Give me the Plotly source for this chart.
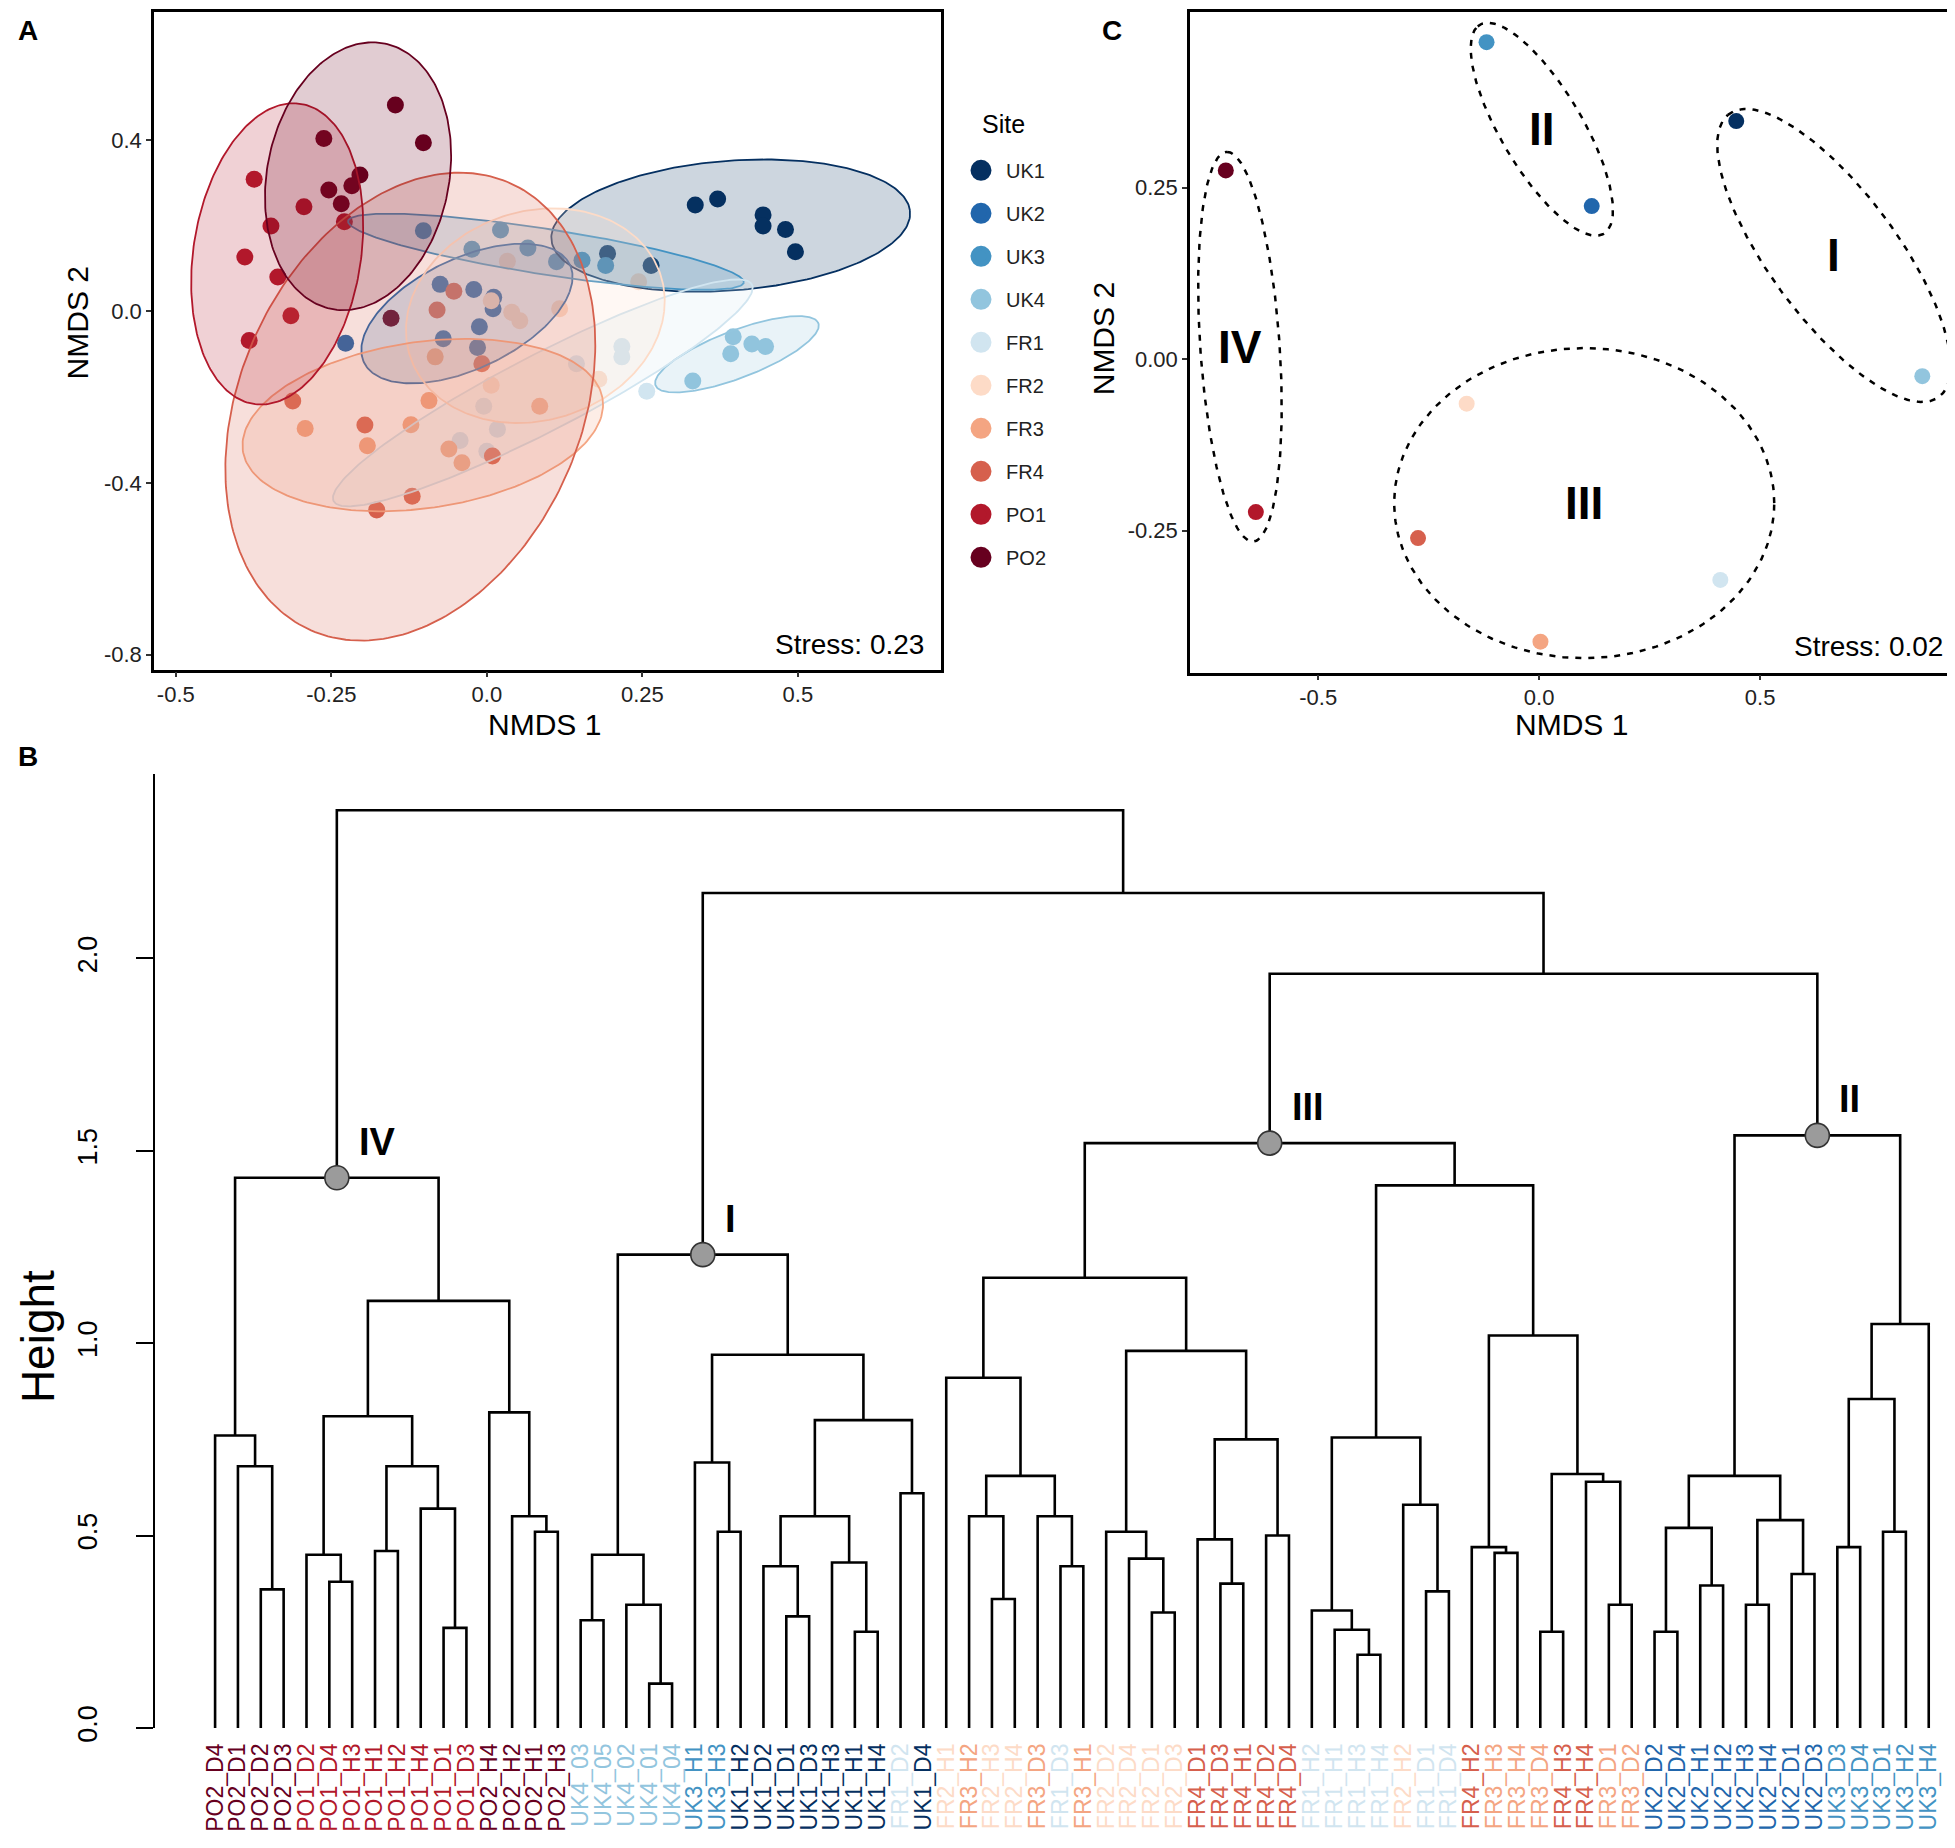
import numpy as np
import plotly.graph_objects as go

W, H = 1955, 1848
FONT = "Liberation Sans, Arial, sans-serif"

# ---------------- data ----------------
sites = ["UK1", "UK2", "UK3", "UK4", "FR1", "FR2", "FR3", "FR4", "PO1", "PO2"]
site_colors = ["#053061", "#2166AC", "#4393C3", "#92C5DE", "#D1E5F0",
               "#FDDBC7", "#F4A582", "#D6604D", "#B2182B", "#67001F"]

# Panel A: NMDS of samples
a_x = {
    "UK1": [0.335, 0.371, 0.444, 0.444, 0.480, 0.496, 0.194, 0.264],
    "UK2": [-0.227, -0.075, -0.021, 0.011, 0.010, -0.012, -0.070, -0.015],
    "UK3": [-0.102, -0.024, 0.022, 0.066, 0.112, 0.153, 0.191],
    "UK4": [0.396, 0.392, 0.426, 0.448, 0.331],
    "FR1": [0.217, 0.217, 0.144, 0.257, -0.005, 0.017, -0.043, 0.000],
    "FR2": [0.033, 0.007, 0.040, 0.053, 0.117, 0.244, 0.007, 0.180],
    "FR3": [-0.093, -0.292, -0.122, -0.192, -0.061, -0.040, 0.085, -0.083],
    "FR4": [-0.053, -0.080, -0.008, -0.312, -0.196, 0.009, -0.120, -0.177],
    "PO1": [-0.374, -0.294, -0.347, -0.229, -0.389, -0.336, -0.315, -0.382],
    "PO2": [-0.147, -0.262, -0.102, -0.204, -0.254, -0.217, -0.234, -0.154],
}
a_y = {
    "UK1": [0.248, 0.262, 0.225, 0.199, 0.191, 0.139, 0.135, 0.107],
    "UK2": [-0.074, 0.063, 0.051, 0.033, 0.006, -0.036, -0.064, -0.084],
    "UK3": [0.188, 0.145, 0.190, 0.148, 0.116, 0.119, 0.107],
    "UK4": [-0.059, -0.099, -0.076, -0.082, -0.162],
    "FR1": [-0.082, -0.106, -0.122, -0.186, -0.221, -0.275, -0.301, -0.326],
    "FR2": [0.117, 0.025, -0.002, -0.022, 0.006, 0.069, -0.172, -0.158],
    "FR3": [-0.208, -0.273, -0.264, -0.313, -0.321, -0.353, -0.221, -0.106],
    "FR4": [0.047, 0.003, -0.122, -0.209, -0.265, -0.337, -0.431, -0.463],
    "PO1": [0.308, 0.244, 0.199, 0.209, 0.127, 0.080, -0.010, -0.068],
    "PO2": [0.481, 0.403, 0.393, 0.318, 0.283, 0.293, 0.251, -0.016],
}
# Panel A ellipses: centre (cx, cy) and conjugate semi-axis vectors u, v
a_ell_c = {"UK1": (0.392, 0.200), "UK2": (-0.032, -0.005), "UK3": (0.095, 0.139),
           "UK4": (0.402, -0.100), "FR1": (0.090, -0.190), "FR2": (0.078, -0.010),
           "FR3": (-0.103, -0.265), "FR4": (-0.123, -0.222), "PO1": (-0.337, 0.134),
           "PO2": (-0.207, 0.315)}
a_ell_u = {"UK1": (0.288, 0.036), "UK2": (0.165, 0.050), "UK3": (0.318, -0.072),
           "UK4": (0.130, 0.075), "FR1": (0.335, 0.255), "FR2": (0.207, 0.010),
           "FR3": (0.287, 0.020), "FR4": (0.100, 0.544), "PO1": (0.030, 0.351),
           "PO2": (0.028, 0.312)}
a_ell_v = {"UK1": (-0.015, 0.150), "UK2": (0.040, 0.155), "UK3": (0.008, 0.052),
           "UK4": (-0.020, 0.048), "FR1": (-0.040, 0.070), "FR2": (0.020, 0.250),
           "FR3": (0.040, 0.200), "FR4": (0.280, -0.040), "PO1": (0.135, -0.010),
           "PO2": (0.147, -0.010)}

# Panel C: NMDS of sites
c_x = [0.446, 0.119, -0.119, 0.867, 0.410, -0.164, 0.003, -0.274, -0.641, -0.709]
c_y = [0.347, 0.223, 0.462, -0.025, -0.322, -0.065, -0.412, -0.261, -0.223, 0.275]
clusters = ["I", "II", "III", "IV"]
clu_c = [(0.667, 0.151), (0.006, 0.335), (0.102, -0.210), (-0.677, 0.018)]
clu_u = [(-0.240, 0.205), (-0.145, 0.150), (0.430, 0.000), (-0.029, 0.284)]
clu_v = [(0.110, 0.060), (0.070, 0.040), (0.000, 0.226), (0.090, 0.000)]

# Panel B: hierarchical clustering (leaf order, merges as in R hclust: -k = leaf k)
leaf_labels = [
    "PO2_D4", "PO2_D1", "PO2_D2", "PO2_D3", "PO1_D2", "PO1_D4", "PO1_H3", "PO1_H1",
    "PO1_H2", "PO1_H4", "PO1_D1", "PO1_D3", "PO2_H4", "PO2_H2", "PO2_H1", "PO2_H3",
    "UK4_03", "UK4_05", "UK4_02", "UK4_01", "UK4_04", "UK3_H1", "UK3_H3", "UK1_H2",
    "UK1_D2", "UK1_D1", "UK1_D3", "UK1_H3", "UK1_H1", "UK1_H4", "FR1_D2", "UK1_D4",
    "FR2_H1", "FR3_H2", "FR2_H3", "FR2_H4", "FR3_D3", "FR1_D3", "FR3_H1", "FR2_D2",
    "FR2_D4", "FR2_D1", "FR2_D3", "FR4_D1", "FR4_D3", "FR4_H1", "FR4_D2", "FR4_D4",
    "FR1_H2", "FR1_H1", "FR1_H3", "FR1_H4", "FR2_H2", "FR1_D1", "FR1_D4", "FR4_H2",
    "FR3_H3", "FR3_H4", "FR3_D4", "FR4_H3", "FR4_H4", "FR3_D1", "FR3_D2", "UK2_D2",
    "UK2_D4", "UK2_H1", "UK2_H2", "UK2_H3", "UK2_H4", "UK2_D1", "UK2_D3", "UK3_D3",
    "UK3_D4", "UK3_D1", "UK3_H2", "UK3_H4"]
merge_left = [-3, -2, -1, -6, -5, -8, -11, -10, 6, 5, -15, -14, -13, 10, 3,
              -20, -19, -17, 18, -23, -22, -26, -25, -29, -28, 23, -31, 26, 21, 19,
              -35, -34, -38, -37, 32, -33, -42, -41, -40, -45, -44, -47, 41, 39, 36,
              -51, -50, -49, -54, -53, 48, -57, -56, -59, -62, -61, 54, 53, 51, 45,
              -64, -66, 61, -68, -70, 64, 63, -72, -74, 68, 70, 67, 60, 30, 15]
merge_right = [-4, 1, 2, -7, 4, -9, -12, 7, 8, 9, -16, 11, 12, 13, 14,
               -21, 16, -18, 17, -24, 20, -27, 22, -30, 24, 25, -32, 27, 28, 29,
               -36, 31, -39, 33, 34, 35, -43, 37, 38, -46, 40, -48, 42, 43, 44,
               -52, 46, 47, -55, 49, 50, -58, 52, -60, -63, 55, 56, 57, 58, 59,
               -65, -67, 62, -69, -71, 65, 66, -73, -75, 69, -76, 71, 72, 73, 74]
merge_height = [0.36, 0.68, 0.76, 0.38, 0.45, 0.46, 0.26, 0.57, 0.68, 0.81, 0.51, 0.55, 0.82, 1.11, 1.43,
                0.115, 0.32, 0.28, 0.45, 0.51, 0.69, 0.29, 0.42, 0.25, 0.43, 0.55, 0.61, 0.80, 0.97, 1.23,
                0.335, 0.55, 0.42, 0.55, 0.655, 0.91, 0.30, 0.44, 0.51, 0.375, 0.49, 0.50, 0.75, 0.98, 1.17,
                0.19, 0.255, 0.305, 0.355, 0.58, 0.755, 0.455, 0.47, 0.25, 0.32, 0.64, 0.66, 1.02, 1.41, 1.52,
                0.25, 0.37, 0.52, 0.32, 0.40, 0.54, 0.655, 0.47, 0.51, 0.855, 1.05, 1.54, 1.96, 2.17, 2.385]
node_merges = [15, 30, 60, 72]
node_names = ["IV", "I", "III", "II"]

# ---------------- helpers ----------------
def ellipse(c, u, v, n=240):
    t = np.linspace(0, 2 * np.pi, n)
    return (c[0] + u[0] * np.cos(t) + v[0] * np.sin(t),
            c[1] + u[1] * np.cos(t) + v[1] * np.sin(t))

def rgba(hexc, a):
    h = hexc.lstrip("#")
    return "rgba(%d,%d,%d,%.2f)" % (int(h[0:2], 16), int(h[2:4], 16), int(h[4:6], 16), a)

color_of = dict(zip(sites, site_colors))

fig = go.Figure()

# ---------------- Panel A ----------------
for s in sites:
    fig.add_trace(go.Scatter(
        x=a_x[s], y=a_y[s], mode="markers", name=s, legendgroup=s, showlegend=False,
        marker=dict(size=17, color=color_of[s], line=dict(width=0)),
        xaxis="x", yaxis="y"))
for s in sites:
    ex, ey = ellipse(a_ell_c[s], a_ell_u[s], a_ell_v[s])
    fig.add_trace(go.Scatter(
        x=ex, y=ey, mode="lines", fill="toself", fillcolor=rgba(color_of[s], 0.2),
        line=dict(color=color_of[s], width=1.8), showlegend=False, legendgroup=s,
        hoverinfo="skip", xaxis="x", yaxis="y"))
# legend keys (Site)
for s in sites:
    fig.add_trace(go.Scatter(
        x=[None], y=[None], mode="markers", name=s, legendgroup=s, showlegend=True,
        marker=dict(size=16, color=color_of[s], line=dict(width=5, color=color_of[s])),
        xaxis="x", yaxis="y"))

# ---------------- Panel C ----------------
for i, s in enumerate(sites):
    fig.add_trace(go.Scatter(
        x=[c_x[i]], y=[c_y[i]], mode="markers", showlegend=False, legendgroup=s,
        marker=dict(size=16, color=site_colors[i]), xaxis="x2", yaxis="y2"))
for k, name in enumerate(clusters):
    ex, ey = ellipse(clu_c[k], clu_u[k], clu_v[k])
    fig.add_trace(go.Scatter(
        x=ex, y=ey, mode="lines", line=dict(color="black", width=2.5, dash="6px,7px"),
        showlegend=False, hoverinfo="skip", xaxis="x2", yaxis="y2"))

# ---------------- Panel B (dendrogram) ----------------
mx, mh = {}, {}
lx_all, ly_all = [], []
for k, (l, r, h) in enumerate(zip(merge_left, merge_right, merge_height), start=1):
    def pos(n):
        return (float(-n), 0.0) if n < 0 else (mx[n], mh[n])
    (xl, hl), (xr, hr) = pos(l), pos(r)
    lx_all += [xl, xl, xr, xr, None]
    ly_all += [hl, h, h, hr, None]
    mx[k] = (xl + xr) / 2
    mh[k] = h

fig.add_trace(go.Scatter(x=lx_all, y=ly_all, mode="lines",
                         line=dict(color="black", width=2.6), showlegend=False,
                         hoverinfo="skip", xaxis="x3", yaxis="y3"))
fig.add_trace(go.Scatter(x=[mx[k] for k in node_merges], y=[mh[k] for k in node_merges],
                         mode="markers", showlegend=False,
                         marker=dict(size=24, color="#9b9b9b", line=dict(color="#333333", width=1.6)),
                         xaxis="x3", yaxis="y3"))

tick_text = ['<span style="color:%s">%s</span>' % (color_of[lab[:3]], lab) for lab in leaf_labels]

# ---------------- layout ----------------
def dom_x(a, b):
    return [a / W, b / W]

def dom_y(top, bot):
    return [1 - bot / H, 1 - top / H]

frame = dict(showline=True, mirror=True, linecolor="black", linewidth=2.5,
             showgrid=False, zeroline=False, ticks="outside", ticklen=5, tickwidth=1.5,
             tickcolor="#333333", tickfont=dict(size=22, color="#222222", family=FONT))

fig.update_layout(
    width=W, height=H, margin=dict(l=0, r=0, t=0, b=0),
    paper_bgcolor="white", plot_bgcolor="white",
    font=dict(family=FONT, color="black"),
    xaxis=dict(domain=dom_x(146, 933), range=[-0.535, 0.730], anchor="y", ticklabelstandoff=-2,
               tickvals=[-0.5, -0.25, 0, 0.25, 0.5], ticktext=["-0.5", "-0.25", "0.0", "0.25", "0.5"], **frame),
    yaxis=dict(domain=dom_y(4, 667), range=[-0.835, 0.698], anchor="x",
               tickvals=[-0.8, -0.4, 0, 0.4], ticktext=["-0.8", "-0.4", "0.0", "0.4"], **frame),
    xaxis2=dict(domain=dom_x(1182, 1947), range=[-0.790, 0.941], anchor="y2", ticklabelstandoff=-2,
                tickvals=[-0.5, 0, 0.5], ticktext=["-0.5", "0.0", "0.5"], **frame),
    yaxis2=dict(domain=dom_y(4, 670), range=[-0.457, 0.506], anchor="x2",
                tickvals=[-0.25, 0, 0.25], ticktext=["-0.25", "0.00", "0.25"], **frame),
    xaxis3=dict(domain=dom_x(147, 1955), range=[-1.63, 77.5], anchor="y3",
                tickvals=list(range(1, len(leaf_labels) + 1)), ticktext=tick_text,
                tickangle=-90, showline=False, showgrid=False, zeroline=False, ticks="",
                ticklabelstandoff=10, tickfont=dict(size=23, family=FONT)),
    yaxis3=dict(domain=dom_y(772, 1734), range=[0, 2.48], anchor="x3",
                tickvals=[0, 0.5, 1.0, 1.5, 2.0], ticktext=["0.0", "0.5", "1.0", "1.5", "2.0"],
                tickangle=-90, showline=True, linecolor="black", linewidth=2.2,
                ticks="outside", ticklen=17, tickwidth=2.2, tickcolor="black",
                ticklabelstandoff=28,
                showgrid=False, zeroline=False, tickfont=dict(size=27, family=FONT, color="black")),
    legend=dict(x=948 / W, y=1 - 144 / H, xanchor="left", yanchor="top",
                font=dict(size=20, family=FONT, color="#222222"),
                tracegroupgap=14, itemwidth=40, bgcolor="rgba(0,0,0,0)"),
)

ann = []
def add_ann(text, x, y, size, bold=False, angle=0, xanchor="center", yanchor="middle", xref="paper", yref="paper", **kw):
    ann.append(dict(text=("<b>%s</b>" % text) if bold else text, x=x, y=y, xref=xref, yref=yref,
                    showarrow=False, textangle=angle, xanchor=xanchor, yanchor=yanchor,
                    font=dict(size=size, family=FONT, color="black"), **kw))

add_ann("A", 20 / W, 1 - 23 / H, 28, bold=True)
add_ann("B", 20 / W, 1 - 755 / H, 28, bold=True)
add_ann("C", 1104 / W, 1 - 23 / H, 28, bold=True)
add_ann("Site", 972 / W, 1 - 117 / H, 25, xanchor="left")
add_ann("NMDS 1", 536 / W, 1 - 722 / H, 30)
add_ann("NMDS 2", 69 / W, 1 - 318 / H, 30, angle=-90)
add_ann("NMDS 1", 1563 / W, 1 - 722 / H, 30)
add_ann("NMDS 2", 1095 / W, 1 - 334 / H, 30, angle=-90)
add_ann("Height", 30 / W, 1 - 1340 / H, 46, angle=-90)
add_ann("Stress: 0.23", 918 / W, 1 - 659 / H, 28, xanchor="right", yanchor="bottom")
add_ann("Stress: 0.02", 1937 / W, 1 - 661 / H, 28, xanchor="right", yanchor="bottom")
for k, name in enumerate(clusters):
    add_ann(name, clu_c[k][0], clu_c[k][1], 46, bold=True, xref="x2", yref="y2")
for k, name in zip(node_merges, node_names):
    add_ann(name, mx[k], mh[k], 38, bold=True, xanchor="left", xref="x3", yref="y3",
            xshift=20, yshift=36)
fig.update_layout(annotations=ann)

fig.write_html("out.html")
